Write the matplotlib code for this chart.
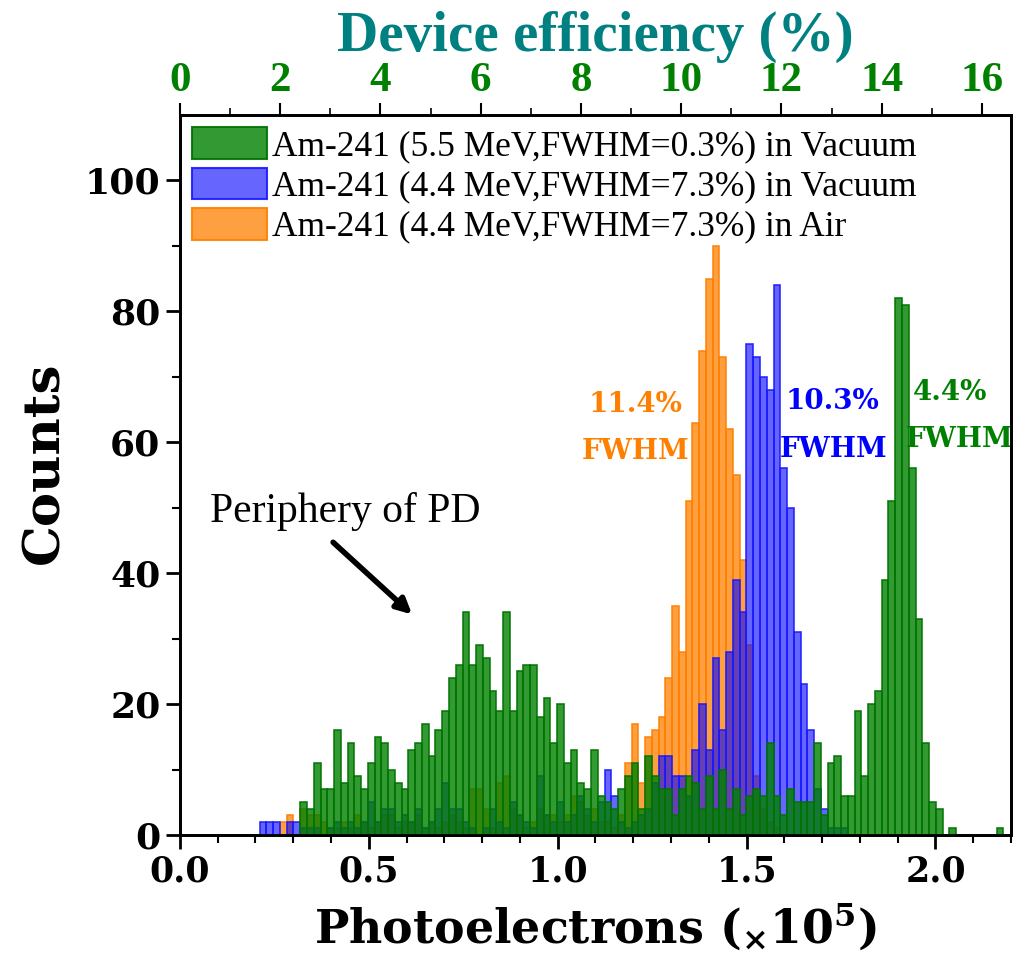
import numpy as np
import matplotlib
matplotlib.use("Agg")
import matplotlib.pyplot as plt
from matplotlib.patches import Patch

# ---------------- data ----------------
bin_start = 0.211
bin_width = 0.0179

green_counts = [0, 0, 0, 0, 0, 0, 5, 4, 11, 7, 7, 16, 8, 14, 9, 7, 11, 15, 14, 10,
                8, 7, 13, 14, 17, 12, 16, 19, 24, 26, 34, 26, 29, 27, 22, 19, 34, 19, 25, 26,
                26, 18, 21, 14, 20, 11, 13, 8, 7, 13, 6, 5, 4, 7, 9, 11, 4, 12, 9, 7,
                7, 3, 7, 9, 8, 4, 9, 4, 10, 4, 7, 3, 6, 7, 6, 14, 6, 3, 7, 5,
                5, 5, 14, 3, 11, 12, 6, 6, 19, 9, 20, 22, 39, 51, 82, 81, 56, 33, 14, 5,
                4, 0, 1, 0, 0, 0, 0, 0, 0, 1]
blue_counts = [2, 2, 2, 0, 2, 2, 1, 1, 1, 0, 1, 2, 1, 2, 1, 2, 5, 2, 4, 4,
               2, 3, 2, 4, 1, 2, 4, 8, 4, 4, 2, 1, 0, 1, 4, 2, 1, 5, 3, 2,
               1, 9, 3, 2, 5, 2, 3, 6, 4, 2, 5, 10, 6, 2, 1, 2, 3, 4, 8, 12,
               12, 9, 9, 6, 13, 20, 13, 27, 16, 28, 39, 34, 75, 73, 70, 68, 84, 56, 50, 31,
               23, 16, 7, 4, 1, 1, 1, 0, 0, 0, 0, 0, 0, 0, 0, 0, 0, 0, 0, 0,
               0, 0, 0, 0, 0, 0, 0, 0, 0, 0]
orange_counts = [0, 0, 0, 2, 3, 0, 4, 3, 3, 2, 1, 1, 2, 1, 3, 2, 1, 2, 3, 3,
                 1, 2, 2, 3, 1, 2, 1, 2, 3, 2, 1, 7, 7, 4, 1, 8, 9, 4, 3, 1,
                 2, 4, 3, 3, 2, 3, 6, 5, 3, 4, 2, 2, 1, 3, 11, 17, 8, 15, 16, 18,
                 24, 35, 28, 51, 63, 74, 85, 90, 73, 62, 55, 42, 29, 9, 4, 2, 1, 0, 0, 0,
                 0, 0, 0, 0, 0, 0, 0, 0, 0, 0, 0, 0, 0, 0, 0, 0, 0, 0, 0, 0,
                 0, 0, 0, 0, 0, 0, 0, 0, 0, 0]

legend_labels = ["Am-241 (5.5 MeV,FWHM=0.3%) in Vacuum",
                 "Am-241 (4.4 MeV,FWHM=7.3%) in Vacuum",
                 "Am-241 (4.4 MeV,FWHM=7.3%) in Air"]
x_ticks = [0.0, 0.5, 1.0, 1.5, 2.0]
y_ticks = [0, 20, 40, 60, 80, 100]
top_ticks = [0, 2, 4, 6, 8, 10, 12, 14, 16]

# ---------------- style ----------------
plt.rcParams['mathtext.fontset'] = 'custom'
plt.rcParams['mathtext.rm'] = 'DejaVu Serif:bold'
plt.rcParams['mathtext.it'] = 'DejaVu Serif:bold'
plt.rcParams['mathtext.bf'] = 'DejaVu Serif:bold'

green_face = (0.0, 0.5, 0.0, 0.8)
green_edge = (0.0, 0.45, 0.0, 0.9)
blue_face = (0.0, 0.0, 1.0, 0.6)
blue_edge = (0.1, 0.1, 1.0, 0.9)
orange_face = (1.0, 0.5, 0.0, 0.75)
orange_edge = (1.0, 0.5, 0.0, 0.9)

n = len(green_counts)
lefts = bin_start + bin_width * np.arange(n)

fig = plt.figure(figsize=(10.33, 9.8), dpi=100)
ax = fig.add_axes([0.1742, 0.148, 0.8045, 0.7347])

ax.bar(lefts, orange_counts, width=bin_width, align='edge', color=orange_face,
       edgecolor=orange_edge, linewidth=1.2, zorder=2)
ax.bar(lefts, blue_counts, width=bin_width, align='edge', color=blue_face,
       edgecolor=blue_edge, linewidth=1.2, zorder=3)
ax.bar(lefts, green_counts, width=bin_width, align='edge', color=green_face,
       edgecolor=green_edge, linewidth=1.2, zorder=4)

ax.set_xlim(0, 2.2)
ax.set_ylim(0, 110)

serif_bold = dict(family='DejaVu Serif', weight='bold')

ax.set_xticks(x_ticks)
ax.set_xticklabels([f"{v:.1f}" for v in x_ticks], fontsize=25, **serif_bold)
ax.set_xticks(np.arange(0, 2.21, 0.1), minor=True)
ax.set_yticks(y_ticks)
ax.set_yticklabels([str(v) for v in y_ticks], fontsize=26, **serif_bold)
ax.set_yticks([10, 30, 50, 70, 90], minor=True)
ax.tick_params(axis='both', which='major', direction='out', length=10, width=2, pad=4)
ax.tick_params(axis='both', which='minor', direction='out', length=6, width=1.5)
for s in ax.spines.values():
    s.set_linewidth(2)

ax.set_ylabel("Counts", fontsize=37, **serif_bold)
ax.yaxis.set_label_coords(-0.133, 0.517)
ax.set_xlabel("Photoelectrons ($_{\\times}$10$^{5}$)", fontsize=33, labelpad=10, **serif_bold)

# top axis (device efficiency)
ax2 = ax.twiny()
ax2.set_xlim(0, 16.58)
ax2.set_xticks(top_ticks)
ax2.set_xticklabels([str(v) for v in top_ticks], fontsize=31, color='#008000',
                    family='Liberation Serif', weight='bold')
ax2.set_xticks(np.arange(1, 17, 2), minor=True)
ax2.tick_params(axis='x', which='major', direction='out', length=9, width=1.5, pad=2)
ax2.tick_params(axis='x', which='minor', direction='out', length=5, width=1.2)
ax2.set_xlabel("Device efficiency (%)", fontsize=41, color='#008080', labelpad=8,
               family='Liberation Serif', weight='bold')
for s in ax2.spines.values():
    s.set_linewidth(2)

# legend
handles = [Patch(facecolor=green_face, edgecolor=green_edge, linewidth=1.5),
           Patch(facecolor=blue_face, edgecolor=blue_edge, linewidth=1.5),
           Patch(facecolor=orange_face, edgecolor=orange_edge, linewidth=1.5)]
ax.legend(handles, legend_labels, loc='upper left', bbox_to_anchor=(0.0, 1.0),
          frameon=False, prop=dict(family='Liberation Serif', size=25.5),
          handlelength=2.1, handleheight=1.0, labelspacing=0.12, handletextpad=0.15,
          borderaxespad=0.15, borderpad=0.2)

# annotations
ann = dict(ha='center', va='center', fontsize=20, **serif_bold)
ax.text(1.205, 65.7, "11.4%", color='#ff8000', **ann)
ax.text(1.207, 58.6, "FWHM", color='#ff8000', **ann)
ax.text(1.726, 66.2, "10.3%", color='#0000ff', **ann)
ax.text(1.729, 58.9, "FWHM", color='#0000ff', **ann)
ax.text(2.039, 67.6, "4.4%", color='#008000', **ann)
ax.text(2.065, 60.4, "FWHM", color='#008000', **ann)

ax.text(0.437, 49.4, "Periphery of PD", ha='center', va='center', fontsize=30,
        family='Liberation Serif')
ax.annotate("", xy=(0.62, 33.4), xytext=(0.40, 45.0),
            arrowprops=dict(arrowstyle='-|>,head_length=0.9,head_width=0.45',
                            color='black', lw=4))

fig.savefig("out.png", dpi=100)
